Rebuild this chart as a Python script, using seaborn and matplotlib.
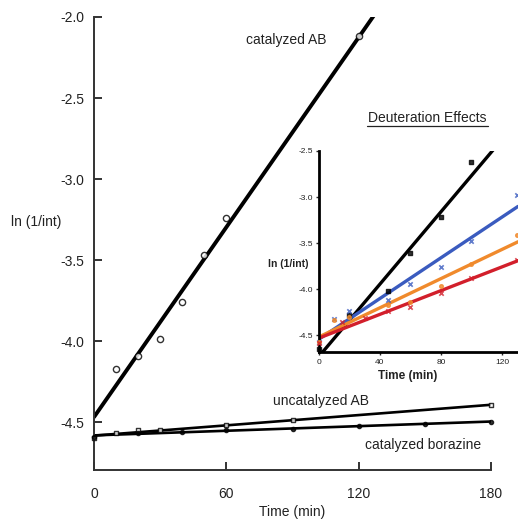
import matplotlib
matplotlib.use("Agg")
import matplotlib.pyplot as plt
import seaborn as sns
import numpy as np
import pandas as pd
from matplotlib.lines import Line2D

# ---------------- data ----------------
# main panel
cat_ab_t = [10, 20, 30, 40, 50, 60, 120]
cat_ab_y = [-4.17, -4.09, -3.99, -3.76, -3.47, -3.24, -2.12]

uncat_ab_t = [0, 10, 20, 30, 60, 90, 180]
uncat_ab_y = [-4.60, -4.57, -4.55, -4.55, -4.52, -4.49, -4.395]

cat_bor_t = [0, 20, 40, 60, 90, 120, 150, 180]
cat_bor_y = [-4.59, -4.57, -4.56, -4.55, -4.54, -4.525, -4.51, -4.50]

main_xticks = [0, 60, 120, 180]
main_yticks = [-4.5, -4.0, -3.5, -3.0, -2.5, -2.0]

# inset: deuteration effects
ins_black_t = [0, 20, 45, 60, 80, 100]
ins_black_y = [-4.65, -4.28, -4.02, -3.61, -3.22, -2.62]

ins_blue_t = [0, 10, 20, 45, 60, 80, 100, 130]
ins_blue_y = [-4.58, -4.33, -4.24, -4.12, -3.95, -3.76, -3.48, -2.98]

ins_orange_t = [0, 10, 20, 45, 60, 80, 100, 130]
ins_orange_y = [-4.58, -4.34, -4.30, -4.17, -4.14, -3.97, -3.73, -3.41]

ins_red_t = [0, 15, 30, 45, 60, 80, 100, 130]
ins_red_y = [-4.59, -4.36, -4.31, -4.24, -4.20, -4.04, -3.88, -3.68]

ins_xticks = [0, 40, 80, 120]
ins_yticks = [-4.5, -4.0, -3.5, -3.0, -2.5]

# ---------------- style ----------------
sns.set_style("ticks")
plt.rcParams['font.family'] = ['Liberation Sans', 'DejaVu Sans']

W, H = 518, 519
fig = plt.figure(figsize=(W / 100, H / 100), dpi=100)

def fx(px):
    return px / W

def fy(py):
    return 1 - py / H

# ---------------- main axes ----------------
ax = fig.add_axes([fx(94), fy(470), fx(491) - fx(94), fy(17) - fy(470)])
ax.set_xlim(0, 180)
ax.set_ylim(-4.796, -2.0)

spine_col = "#333333"
for s in ["top", "right"]:
    ax.spines[s].set_visible(False)
for s in ["left", "bottom"]:
    ax.spines[s].set_color(spine_col)
    ax.spines[s].set_linewidth(1.4)

ax.set_xticks(main_xticks)
ax.set_xticklabels([str(v) for v in main_xticks])
ax.set_yticks(main_yticks)
ax.set_yticklabels([f"{v:.1f}" for v in main_yticks])
ax.tick_params(axis="x", direction="in", length=6, width=1.4, color=spine_col,
               pad=12, labelsize=10, labelcolor="#222222")
ax.tick_params(axis="y", direction="in", length=6, width=1.4, color=spine_col,
               pad=7, labelsize=10, labelcolor="#222222")

df_cat = pd.DataFrame({"t": cat_ab_t, "y": cat_ab_y})
df_unc = pd.DataFrame({"t": uncat_ab_t, "y": uncat_ab_y})
df_bor = pd.DataFrame({"t": cat_bor_t, "y": cat_bor_y})

sns.regplot(data=df_cat, x="t", y="y", ax=ax, ci=None, truncate=False,
            marker="o",
            scatter_kws=dict(s=20, facecolors="white", edgecolors="black",
                             linewidths=1.0, clip_on=False, zorder=3),
            line_kws=dict(color="black", lw=2.8, zorder=2))
sns.regplot(data=df_unc, x="t", y="y", ax=ax, ci=None, truncate=False,
            marker="s",
            scatter_kws=dict(s=12, facecolors="white", edgecolors="black",
                             linewidths=1.0, clip_on=False, zorder=3),
            line_kws=dict(color="black", lw=1.9, zorder=2))
sns.regplot(data=df_bor, x="t", y="y", ax=ax, ci=None, truncate=False,
            marker="o",
            scatter_kws=dict(s=9, color="black", clip_on=False, zorder=3),
            line_kws=dict(color="black", lw=1.9, zorder=2))
ax.set_xlabel("")
ax.set_ylabel("")

fig.text(fx(286), fy(40), "catalyzed AB", ha="center", va="center", fontsize=10, color="#222222")
fig.text(fx(321), fy(401), "uncatalyzed AB", ha="center", va="center", fontsize=10, color="#222222")
fig.text(fx(423), fy(445), "catalyzed borazine", ha="center", va="center", fontsize=10, color="#222222")
fig.text(fx(36), fy(222), "ln (1/int)", ha="center", va="center", fontsize=10, color="#222222")
fig.text(fx(292), fy(512), "Time (min)", ha="center", va="center", fontsize=10, color="#222222")

# ---------------- inset axes ----------------
ins = fig.add_axes([fx(319), fy(352.3), 1 - fx(319), fy(151) - fy(352.3)])
ins.set_facecolor("none")
ins.set_xlim(0, 130.5)
ins.set_ylim(-4.688, -2.5)
for s in ["top", "right"]:
    ins.spines[s].set_visible(False)
for s in ["left", "bottom"]:
    ins.spines[s].set_color("black")
    ins.spines[s].set_linewidth(2.0)
ins.set_xticks(ins_xticks)
ins.set_xticklabels([str(v) for v in ins_xticks])
ins.set_yticks(ins_yticks)
ins.set_yticklabels([f"{v:.1f}" for v in ins_yticks])
ins.tick_params(axis="both", direction="out", length=2.5, width=1.0,
                pad=2, labelsize=6, labelcolor="#222222")

inset_series = [
    (ins_black_t, ins_black_y, "black", "s", 7),
    (ins_blue_t, ins_blue_y, "#3a5bbf", "x", 10),
    (ins_orange_t, ins_orange_y, "#f08a2c", "o", 7),
    (ins_red_t, ins_red_y, "#d21f2b", "x", 10),
]
for tt, yy, col, mk, sz in inset_series:
    d = pd.DataFrame({"t": tt, "y": yy})
    kws = dict(s=sz, color=col, clip_on=False, zorder=3)
    if mk == "x":
        kws["linewidths"] = 1.2
    sns.regplot(data=d, x="t", y="y", ax=ins, ci=None, truncate=False,
                marker=mk, scatter_kws=kws,
                line_kws=dict(color=col, lw=2.4, zorder=2))
ins.set_xlabel("")
ins.set_ylabel("")

fig.text(fx(427), fy(118), "Deuteration Effects", ha="center", va="center", fontsize=10, color="#222222")
fig.add_artist(Line2D([fx(367), fx(488)], [fy(125.5), fy(125.5)], color="#222222", lw=0.9))
fig.text(fx(288), fy(264), "ln (1/int)", ha="center", va="center", fontsize=7.5,
         fontweight="bold", color="#222222")
fig.text(fx(408), fy(376), "Time (min)", ha="center", va="center", fontsize=8.5,
         fontweight="bold", color="#222222")

fig.savefig("out.png", dpi=100)
